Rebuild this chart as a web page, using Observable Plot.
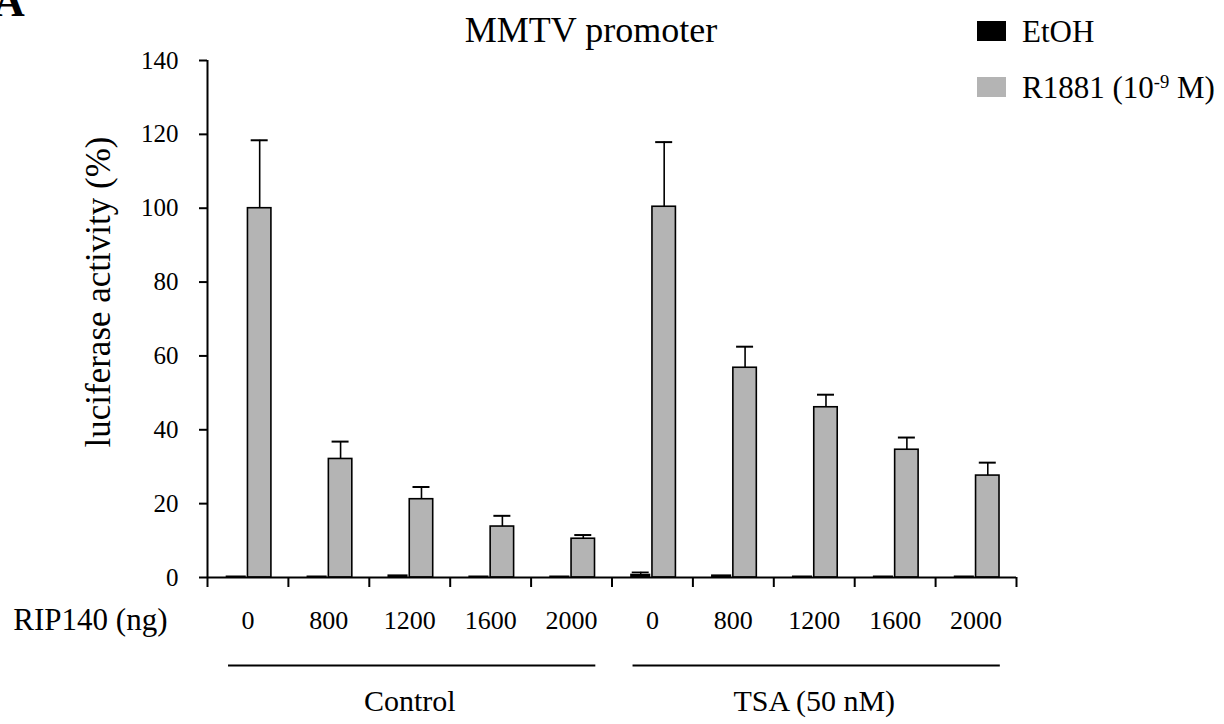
<!DOCTYPE html>
<html>
<head>
<meta charset="utf-8">
<script src="https://cdn.jsdelivr.net/npm/d3@7"></script>
<script src="https://cdn.jsdelivr.net/npm/@observablehq/plot@0.6"></script>
<style>
  html, body { margin: 0; padding: 0; background: white; }
  #wrap { position: relative; width: 1224px; height: 724px; overflow: hidden; font-family: "Liberation Serif", "Times New Roman", serif; color: black; }
  #wrap svg { position: absolute; left: 0; top: 0; }
  .abs { position: absolute; white-space: nowrap; line-height: 1; }
  .sw { position: absolute; width: 29px; height: 20px; }
  sup { font-size: 0.6em; vertical-align: 0; position: relative; top: -0.55em; }
</style>
</head>
<body>
<div id="wrap">
  <div class="abs" style="left:-7px; top:-20px; font-size:44px; font-weight:bold;">A</div>
  <div class="abs" id="title" style="left:391px; width:400px; text-align:center; top:12px; font-size:36px;"></div>
  <div class="sw" id="sw0" style="left:977px; top:21px;"></div>
  <div class="abs" id="lg0" style="left:1022px; top:16px; font-size:31px;"></div>
  <div class="sw" id="sw1" style="left:977px; top:77px;"></div>
  <div class="abs" id="lg1" style="left:1022px; top:72px; font-size:31px;"></div>
</div>
<script>
// ---- data ----
const doses = ["0", "800", "1200", "1600", "2000", "0", "800", "1200", "1600", "2000"];
const treatments = ["Control", "Control", "Control", "Control", "Control",
                    "TSA (50 nM)", "TSA (50 nM)", "TSA (50 nM)", "TSA (50 nM)", "TSA (50 nM)"];
const etohValues  = [0.2, 0.2, 0.5, 0.2, 0.2, 0.7, 0.5, 0.2, 0.2, 0.2];
const etohErrors  = [0, 0, 0, 0, 0, 0.7, 0, 0, 0, 0];
const r1881Values = [100, 32.1, 21.2, 13.8, 10.5, 100.4, 56.8, 46.1, 34.6, 27.6];
const r1881Errors = [18.4, 4.7, 3.3, 2.9, 1.0, 17.5, 5.7, 3.4, 3.3, 3.5];
const yTicks = [0, 20, 40, 60, 80, 100, 120, 140];
const seriesNames = ["EtOH", "R1881 (10<sup>-9</sup> M)"];
const seriesColors = ["#000000", "#b4b4b4"];
const titleText = "MMTV promoter";
const yLabel = "luciferase activity (%)";
const xLabel = "RIP140 (ng)";

// ---- build table ----
const rows = doses.map((d, i) => ({
  i, dose: d, treatment: treatments[i],
  etoh: etohValues[i], etohErr: etohErrors[i],
  r1881: r1881Values[i], r1881Err: r1881Errors[i]
}));
const groupNames = Array.from(new Set(treatments));
const groupSpans = groupNames.map(g => {
  const idx = rows.filter(r => r.treatment === g).map(r => r.i);
  return {name: g, start: d3.min(idx), end: d3.max(idx) + 1};
});

const serif = "'Liberation Serif', 'Times New Roman', serif";

const chart = Plot.plot({
  width: 1224,
  height: 724,
  marginLeft: 207,
  marginRight: 208,
  marginTop: 60,
  marginBottom: 147,
  style: {fontFamily: serif, fontSize: "25px", color: "black", background: "transparent", overflow: "visible"},
  x: {domain: [0, rows.length]},
  y: {domain: [0, 140]},
  marks: [
    // bars
    Plot.rect(rows, {x1: d => d.i + 0.24, x2: d => d.i + 0.47, y1: 0, y2: "etoh",
      fill: seriesColors[0], stroke: "black", strokeWidth: 1.5}),
    Plot.rect(rows, {x1: d => d.i + 0.5, x2: d => d.i + 0.79, y1: 0, y2: "r1881",
      fill: seriesColors[1], stroke: "black", strokeWidth: 1.6}),
    // error bars R1881
    Plot.ruleX(rows, {x: d => d.i + 0.645, y1: "r1881", y2: d => d.r1881 + d.r1881Err, stroke: "black", strokeWidth: 1.6}),
    Plot.ruleY(rows, {y: d => d.r1881 + d.r1881Err, x1: d => d.i + 0.54, x2: d => d.i + 0.75, stroke: "black", strokeWidth: 2}),
    // error bars EtOH
    Plot.ruleX(rows.filter(d => d.etohErr > 0), {x: d => d.i + 0.355, y1: "etoh", y2: d => d.etoh + d.etohErr, stroke: "black", strokeWidth: 1.5}),
    Plot.ruleY(rows.filter(d => d.etohErr > 0), {y: d => d.etoh + d.etohErr, x1: d => d.i + 0.25, x2: d => d.i + 0.46, stroke: "black", strokeWidth: 1.6}),
    // axes
    Plot.ruleY([0], {stroke: "black", strokeWidth: 2}),
    Plot.ruleX([0], {stroke: "black", strokeWidth: 2}),
    Plot.axisY({ticks: yTicks, tickSize: 8, tickPadding: 21, label: null, fontSize: 25, strokeWidth: 2}),
    Plot.axisX({ticks: d3.range(0, rows.length + 1), tickSize: 10, tickFormat: () => "", label: null, strokeWidth: 2}),
    // x category labels
    Plot.text(rows, {x: d => d.i + 0.5, y: 0, text: "dose", dy: 43, fontSize: 26}),
    Plot.text([xLabel], {x: 0, y: 0, dx: -40, dy: 43, textAnchor: "end", fontSize: 31}),
    // group underlines and labels
    Plot.ruleY(groupSpans, {y: 0, x1: d => d.start + 0.26, x2: d => d.end - 0.2, dy: 88, stroke: "black", strokeWidth: 2.2}),
    Plot.text(groupSpans, {x: d => (d.start + d.end) / 2, y: 0, text: "name", dy: 124, fontSize: 30}),
    // y label
    Plot.text([yLabel], {frameAnchor: "left", rotate: -90, textAnchor: "middle", dx: -109, dy: -27, fontSize: 35})
  ]
});

const wrap = document.getElementById("wrap");
wrap.insertBefore(chart, wrap.firstChild);
document.getElementById("title").textContent = titleText;
document.getElementById("sw0").style.background = seriesColors[0];
document.getElementById("sw1").style.background = seriesColors[1];
document.getElementById("lg0").innerHTML = seriesNames[0];
document.getElementById("lg1").innerHTML = seriesNames[1];
</script>
</body>
</html>
